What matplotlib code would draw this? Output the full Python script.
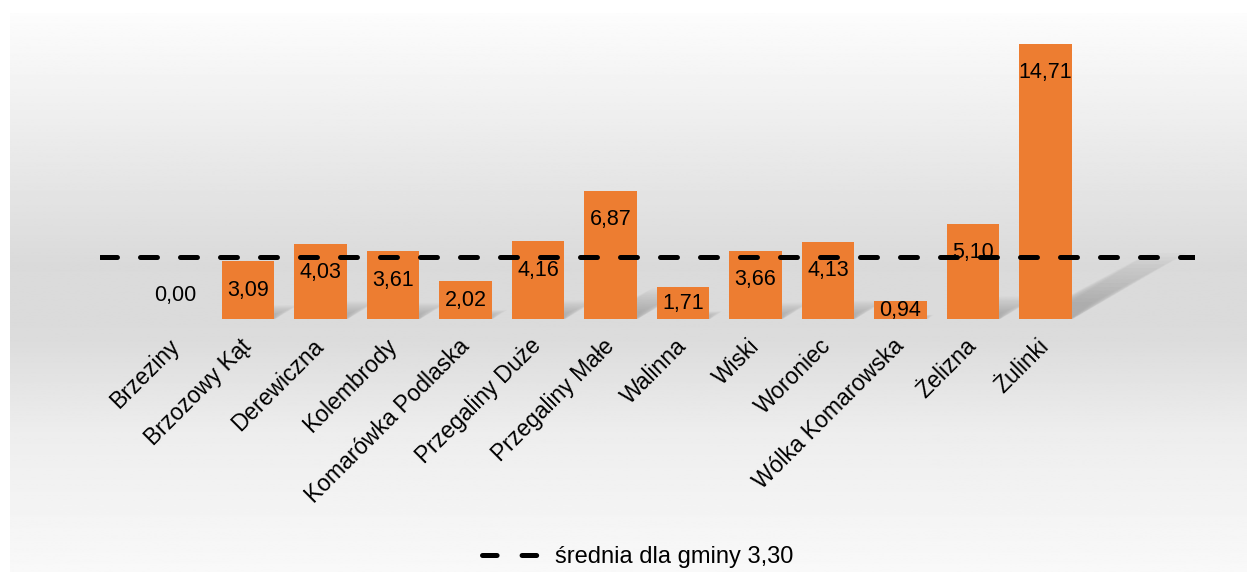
import matplotlib.pyplot as plt
import numpy as np
from matplotlib.patches import Polygon
from matplotlib.lines import Line2D

plt.rcParams['font.family'] = ['Liberation Sans', 'DejaVu Sans']
plt.rcParams['lines.scale_dashes'] = False

# dane
villages = ['Brzeziny', 'Brzozowy Kąt', 'Derewiczna', 'Kolembrody', 'Komarówka Podlaska',
            'Przegaliny Duże', 'Przegaliny Małe', 'Walinna', 'Wiski', 'Woroniec',
            'Wólka Komarowska', 'Żelizna', 'Żulinki']
values = [0.00, 3.09, 4.03, 3.61, 2.02, 4.16, 6.87, 1.71, 3.66, 4.13, 0.94, 5.10, 14.71]
mean_value = 3.30
mean_label = 'średnia dla gminy 3,30'

bar_color = '#ED7D31'

W, H = 1247, 572
fig = plt.figure(figsize=(W / 100, H / 100), dpi=100)

# tło z gradientem
bg = fig.add_axes([10 / W, 0, 1 - 10 / W, 1 - 13 / H], zorder=-10)
ys = np.linspace(0, 1, 400)  # 0 = dół, 1 = góra
stops_y = [0.0, 0.25, 0.42, 0.55, 1.0]
stops_c = [0.975, 0.93, 0.86, 0.855, 0.99]
grad = np.interp(ys, stops_y, stops_c)
bg.imshow(np.tile(grad[:, None], (1, 2)), aspect='auto', cmap='gray', vmin=0, vmax=1,
          origin='lower', extent=[0, 1, 0, 1])
bg.axis('off')

# wykres
px_per_unit = 18.7
ymax = 16
ax = fig.add_axes([100 / W, 1 - 319 / H, 1095 / W, ymax * px_per_unit / H])
ax.patch.set_alpha(0)
x = np.arange(len(villages))
bar_w = 0.72
ax.set_xlim(-1.041, 14.063)
ax.set_ylim(0, ymax)

# cienie słupków (miękkie, warstwowe)
for xi, v in zip(x, values):
    if v <= 0:
        continue
    for k in range(14):
        t = k / 14
        f = 0.24 * (1 - 0.8 * t)
        hs = v * f
        dx = hs * 0.45
        shrink = 0.12 * t
        poly = Polygon([(xi - bar_w / 2 + 0.08 + shrink, 0), (xi + bar_w / 2 + 0.02 - shrink * 0.3, 0),
                        (xi + bar_w / 2 + dx - shrink, hs), (xi - bar_w / 2 + dx + 0.2 + shrink, hs)],
                       closed=True, facecolor='#606060', edgecolor='none', alpha=0.028, zorder=1)
        ax.add_patch(poly)

ax.bar(x, values, bar_w, color=bar_color, zorder=2)

# linia średniej
ax.axhline(mean_value, color='black', linewidth=3.6, linestyle=(0, (12.2, 16.6)),
           dash_capstyle='round', zorder=3)

# etykiety wartości
for xi, v in zip(x, values):
    hpx = v * px_per_unit
    txt = f'{v:.2f}'.replace('.', ',')
    if hpx >= 52:
        ax.annotate(txt, (xi, v), xytext=(0, -29 * 0.72), textcoords='offset points',
                    ha='center', va='center', fontsize=15.5, zorder=4)
    elif v > 0:
        ax.annotate(txt, (xi, v / 2), ha='center', va='center', fontsize=15.5, zorder=4)
    else:
        ax.annotate(txt, (xi, 0), xytext=(0, 24 * 0.72), textcoords='offset points',
                    ha='center', va='center', fontsize=15.5, zorder=4)

ax.set_xticks(x)
ax.set_xticklabels(villages, rotation=45, ha='right', va='center', rotation_mode='anchor',
                   fontsize=16.5)
ax.tick_params(axis='x', length=0, pad=17)
ax.set_yticks([])
for s in ax.spines.values():
    s.set_visible(False)

handle = Line2D([0], [0], color='black', linewidth=3.6, linestyle=(0, (10.5, 18)),
                dash_capstyle='round')
fig.legend([handle], [mean_label], loc='center', bbox_to_anchor=(638 / W, 1 - 557 / H),
           frameon=False, fontsize=17, handlelength=2.5, handletextpad=0.6)

fig.savefig('out.png', dpi=100)
